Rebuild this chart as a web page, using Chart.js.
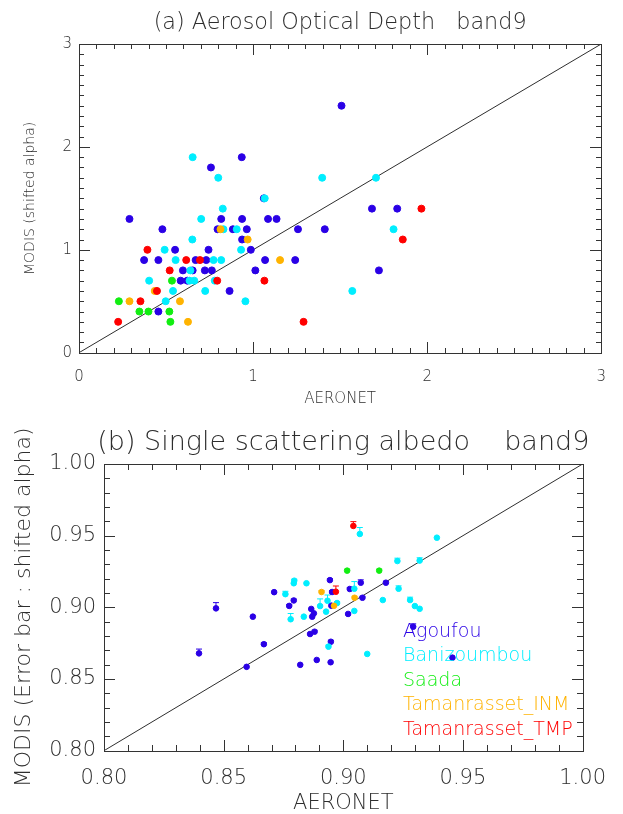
<!DOCTYPE html>
<html>
<head>
<meta charset="utf-8">
<script src="https://cdn.jsdelivr.net/npm/chart.js@4.4.1/dist/chart.umd.min.js"></script>
<style>
  body { margin: 0; background: #fff; }
  canvas { display: block; }
</style>
</head>
<body>
<canvas id="aod" width="623" height="410"></canvas>
<canvas id="ssa" width="623" height="404"></canvas>
<script>
// site names and colours
const sites = ["Agoufou", "Banizoumbou", "Saada", "Tamanrasset_INM", "Tamanrasset_TMP"];
const siteColors = ["#2a00e6", "#00eeff", "#11ee11", "#ffb300", "#ff0000"];

// (a) AOD band9 : [AERONET, MODIS]
const aodAgoufou = [[0.456,0.4],[0.865,0.6],[0.584,0.7],[0.622,0.7],[0.597,0.8],[0.653,0.8],[0.723,0.8],
  [0.763,0.8],[1.013,0.8],[1.723,0.8],[0.374,0.9],[0.456,0.9],[0.670,0.9],[0.731,0.9],[1.069,0.9],[1.242,0.9],
  [0.552,1.0],[0.744,1.0],[0.987,1.0],[0.937,1.1],[0.479,1.2],[0.796,1.2],[0.884,1.2],[0.964,1.2],[1.258,1.2],
  [1.412,1.2],[0.290,1.3],[0.817,1.3],[0.937,1.3],[1.086,1.3],[1.135,1.3],[1.683,1.4],[1.828,1.4],[1.062,1.5],
  [0.758,1.8],[0.935,1.9],[1.508,2.4]];
const aodBanizoumbou = [[0.498,0.5],[0.956,0.5],[0.540,0.6],[0.725,0.6],[1.570,0.6],[0.403,0.7],[0.635,0.7],
  [0.662,0.7],[0.780,0.7],[0.640,0.8],[0.555,0.9],[0.773,0.9],[0.817,0.9],[0.492,1.0],[0.931,1.0],[0.651,1.1],
  [0.830,1.2],[0.906,1.2],[1.807,1.2],[0.702,1.3],[0.826,1.4],[1.067,1.5],[0.800,1.7],[1.397,1.7],[1.706,1.7],
  [0.653,1.9]];
const aodSaada = [[0.525,0.3],[0.347,0.4],[0.399,0.4],[0.519,0.4],[0.229,0.5],[0.534,0.7]];
const aodTamINM = [[0.626,0.3],[0.290,0.5],[0.580,0.5],[0.435,0.6],[1.155,0.9],[0.969,1.1],[0.813,1.2]];
const aodTamTMP = [[0.225,0.3],[1.290,0.3],[0.353,0.5],[0.448,0.6],[0.794,0.7],[1.065,0.7],[0.521,0.8],
  [0.616,0.9],[0.695,0.9],[0.393,1.0],[1.860,1.1],[1.967,1.4]];

// (b) SSA band9 : [AERONET, MODIS, error bar]
const ssaAgoufou = [[0.8397,0.8679,0.003],[0.8468,0.8993,0.004],[0.8596,0.8585,0],[0.8622,0.8935,0],
  [0.8668,0.8743,0.001],[0.8711,0.9106,0],[0.8774,0.9010,0.001],[0.8793,0.9048,0.001],[0.8820,0.8599,0],
  [0.8861,0.8814,0],[0.8866,0.8989,0],[0.8877,0.8958,0],[0.8870,0.8935,0],[0.8880,0.8830,0.001],
  [0.8889,0.8633,0],[0.8944,0.9190,0.001],[0.8948,0.8760,0.001],[0.8947,0.8617,0],[0.8953,0.9107,0.001],
  [0.8950,0.9012,0],[0.9020,0.8954,0],[0.9027,0.9128,0.001],[0.9073,0.9172,0.002],[0.9080,0.9067,0.001],
  [0.9178,0.9172,0.001],[0.9292,0.8865,0.002],[0.9456,0.8649,0]];
const ssaBanizoumbou = [[0.8758,0.9092,0.002],[0.8795,0.9186,0.001],[0.8793,0.9168,0],[0.8780,0.8917,0.004],
  [0.8835,0.8935,0],[0.8846,0.9168,0],[0.8903,0.9009,0.005],[0.8934,0.9046,0.004],[0.8974,0.9030,0.001],
  [0.8928,0.8970,0],[0.8938,0.8726,0.001],[0.9046,0.8975,0],[0.9069,0.9512,0.0045],[0.9391,0.9486,0],
  [0.9046,0.9130,0.005],[0.9226,0.9323,0.002],[0.9319,0.9326,0.002],[0.9231,0.9130,0.002],[0.9165,0.9051,0],
  [0.9279,0.9051,0.002],[0.9299,0.9009,0],[0.9319,0.8990,0],[0.9100,0.8675,0]];
const ssaSaada = [[0.9016,0.9256,0.001],[0.9150,0.9256,0.001]];
const ssaTamINM = [[0.8909,0.9107,0.001],[0.8961,0.9011,0.001],[0.9047,0.9067,0.001]];
const ssaTamTMP = [[0.9042,0.9568,0.003],[0.8969,0.9109,0.004]];

// minor tick values along each axis (majors every 1 / every 0.05)
const aodTicks = Array.from({length: 31}, (_, i) => +(i * 0.1).toFixed(1));
const ssaTicks = Array.from({length: 21}, (_, i) => +(0.8 + i * 0.01).toFixed(2));

const aodSeries = [aodAgoufou, aodBanizoumbou, aodSaada, aodTamINM, aodTamTMP];
const ssaSeries = [ssaAgoufou, ssaBanizoumbou, ssaSaada, ssaTamINM, ssaTamTMP];

const INK = "#2e2e2e";
const FAMILY = "'DejaVu Sans', sans-serif";

// IDL style frame with inward major/minor ticks on all four sides, drawn as 1px filled bars
function idlAxes(cfg) {
    return {
        id: "idlAxes",
        afterDraw(chart) {
            const ctx = chart.ctx;
            const a = chart.chartArea;
            const sx = chart.scales.x, sy = chart.scales.y;
            const L = Math.round(a.left), R = Math.round(a.right);
            const T = Math.round(a.top), B = Math.round(a.bottom);
            ctx.save();
            ctx.globalAlpha = 1;
            ctx.globalCompositeOperation = "source-over";
            ctx.fillStyle = "#333";
            cfg.ticks.forEach((v, i) => {
                const len = i % cfg.perMajor === 0 ? cfg.majorLen : cfg.minorLen;
                const px = Math.round(sx.getPixelForValue(v));
                const py = Math.round(sy.getPixelForValue(v));
                ctx.fillRect(px, B - len, 1, len);
                ctx.fillRect(px, T, 1, len);
                ctx.fillRect(L, py, len, 1);
                ctx.fillRect(R - len, py, len, 1);
            });
            ctx.fillRect(L, T, R - L + 1, 1);
            ctx.fillRect(L, B, R - L + 1, 1);
            ctx.fillRect(L, T, 1, B - T + 1);
            ctx.fillRect(R, T, 1, B - T + 1);
            ctx.restore();
        }
    };
}

// panel title centred over the plot area
function panelTitle(cfg) {
    return {
        id: "panelTitle",
        afterDraw(chart) {
            const {ctx, chartArea: a} = chart;
            ctx.save();
            ctx.font = cfg.font;
            ctx.fillStyle = INK;
            ctx.textAlign = "center";
            ctx.textBaseline = "middle";
            ctx.fillText(cfg.text, (a.left + a.right) / 2, a.top - cfg.gap);
            ctx.restore();
        }
    };
}

// upward error bars with a cap
const errorBars = {
    id: "errorBars",
    beforeDatasetsDraw(chart) {
        const {ctx} = chart;
        const sx = chart.scales.x, sy = chart.scales.y;
        ctx.save();
        ctx.lineWidth = 1;
        chart.data.datasets.forEach(ds => {
            if (!ds.err) return;
            ctx.strokeStyle = ds.backgroundColor;
            ds.data.forEach((p, i) => {
                if (!ds.err[i]) return;
                const px = sx.getPixelForValue(p.x);
                const y0 = sy.getPixelForValue(p.y);
                const y1 = sy.getPixelForValue(p.y + ds.err[i]);
                ctx.beginPath();
                ctx.moveTo(px, y0); ctx.lineTo(px, y1);
                ctx.moveTo(px - 3, y1); ctx.lineTo(px + 3, y1);
                ctx.stroke();
            });
        });
        ctx.restore();
    }
};

// coloured site names inside the plot
function siteLegend(cfg) {
    return {
        id: "siteLegend",
        afterDraw(chart) {
            const {ctx} = chart;
            ctx.save();
            ctx.font = cfg.font;
            ctx.textBaseline = "middle";
            ctx.textAlign = "left";
            chart.data.datasets.filter(ds => ds.label).forEach((ds, i) => {
                ctx.fillStyle = ds.backgroundColor;
                ctx.fillText(ds.label, cfg.x, cfg.y + i * cfg.step);
            });
            ctx.restore();
        }
    };
}

function siteDatasets(series, radius, withErr) {
    return series.map((pts, i) => {
        const ds = {
            label: sites[i],
            data: pts.map(p => ({x: p[0], y: p[1]})),
            backgroundColor: siteColors[i],
            borderColor: siteColors[i],
            borderWidth: 1,
            pointRadius: radius,
            pointHoverRadius: radius,
            order: 5 - i
        };
        if (withErr) ds.err = pts.map(p => p[2]);
        return ds;
    });
}

function oneToOne(lo, hi) {
    return {
        label: "",
        data: [{x: lo, y: lo}, {x: hi, y: hi}],
        showLine: true,
        borderColor: INK,
        borderWidth: 1,
        pointRadius: 0,
        order: 10
    };
}

function axis(o) {
    return {
        type: "linear",
        min: o.min, max: o.max,
        grid: {display: false, drawTicks: false, tickLength: 0},
        border: {display: false},
        ticks: {
            stepSize: o.step,
            color: INK,
            padding: o.pad,
            font: {family: FAMILY, size: o.size, weight: 200, lineHeight: 1},
            callback: o.fmt
        },
        title: {
            display: true,
            text: o.title,
            color: INK,
            font: {family: FAMILY, size: o.titleSize, weight: 200, lineHeight: 1},
            padding: o.titlePad
        },
        afterFit: o.fit
    };
}

new Chart(document.getElementById("aod"), {
    type: "scatter",
    data: {datasets: [oneToOne(0, 3)].concat(siteDatasets(aodSeries, 3.5, false))},
    options: {
        responsive: false,
        animation: false,
        layout: {padding: {left: 0, right: 17.2, top: 44, bottom: 0}},
        plugins: {legend: {display: false}, tooltip: {enabled: false}},
        scales: {
            x: axis({min: 0, max: 3, step: 1, pad: 17, size: 15, title: "AERONET", titleSize: 15,
                     titlePad: {top: 0, bottom: 3}, fmt: v => String(v), fit: s => { s.height = 57.3; }}),
            y: axis({min: 0, max: 3, step: 1, pad: 7, size: 15, title: "MODIS (shifted alpha)", titleSize: 14,
                     titlePad: {top: 23, bottom: 0}, fmt: v => String(v), fit: s => { s.width = 79; }})
        }
    },
    plugins: [
        idlAxes({ticks: aodTicks, perMajor: 10, majorLen: 11, minorLen: 5}),
        panelTitle({text: "(a) Aerosol Optical Depth   band9", font: "200 22.3px " + FAMILY, gap: 21})
    ]
});

new Chart(document.getElementById("ssa"), {
    type: "scatter",
    data: {datasets: [oneToOne(0.8, 1.0)].concat(siteDatasets(ssaSeries, 2.8, true))},
    options: {
        responsive: false,
        animation: false,
        layout: {padding: {left: 0, right: 24, top: 54, bottom: 0}},
        plugins: {legend: {display: false}, tooltip: {enabled: false}},
        scales: {
            x: axis({min: 0.8, max: 1.0, step: 0.05, pad: 17, size: 21, title: "AERONET", titleSize: 21,
                     titlePad: {top: 0, bottom: 0}, fmt: v => v.toFixed(2), fit: s => { s.height = 63.3; }}),
            y: axis({min: 0.8, max: 1.0, step: 0.05, pad: 8, size: 21, title: "MODIS (Error bar : shifted alpha)",
                     titleSize: 22, titlePad: {top: 13, bottom: 0}, fmt: v => v.toFixed(2),
                     fit: s => { s.width = 104; }})
        }
    },
    plugins: [
        idlAxes({ticks: ssaTicks, perMajor: 5, majorLen: 11, minorLen: 6}),
        errorBars,
        siteLegend({x: 403, y: 221.7, step: 24.6, font: "200 19px " + FAMILY}),
        panelTitle({text: "(b) Single scattering albedo    band9", font: "200 27px " + FAMILY, gap: 21})
    ]
});
</script>
</body>
</html>
